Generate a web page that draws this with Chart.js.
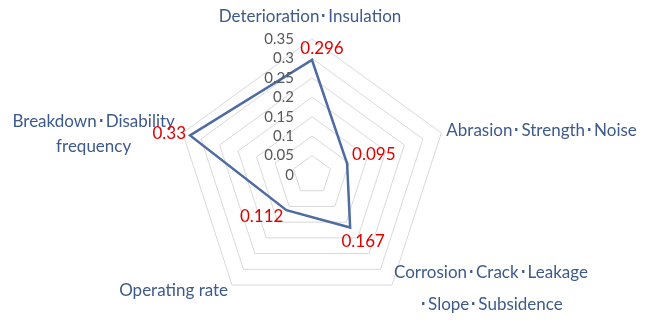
<!DOCTYPE html>
<html>
<head>
<meta charset="utf-8">
<script src="https://cdn.jsdelivr.net/npm/chart.js@4/dist/chart.umd.min.js"></script>
<style>
  html, body { margin: 0; padding: 0; background: #fff; }
  #wrap { width: 647px; height: 322px; position: relative; }
</style>
</head>
<body>
<div id="wrap"><canvas id="c"></canvas></div>
<script>
// axis names (multi-line ones are arrays)
const categories = [
  'Deterioration･Insulation',
  'Abrasion･Strength･Noise',
  ['Corrosion･Crack･Leakage', '･Slope･Subsidence'],
  'Operating rate',
  ['Breakdown･Disability', 'frequency']
];
const values = [0.296, 0.095, 0.167, 0.112, 0.33];
const tickValues = [0, 0.05, 0.1, 0.15, 0.2, 0.25, 0.3, 0.35];

const FONT = 'Lato, "Open Sans", sans-serif';
const LABEL_COLOR = '#3d5a8c';
const LINE_COLOR = '#4e6ba3';
const VALUE_COLOR = '#e00000';

// where each axis name / value label sits relative to its anchor point
const catOffsets = [
  { dx: -2, dy: -22, align: 'center' },
  { dx: 5, dy: -2, align: 'left' },
  { dx: 99, dy: 3, align: 'center' },
  { dx: -4, dy: 5, align: 'right' },
  { dx: -89, dy: 1, align: 'center' }
];
const valOffsets = [
  { dx: 10, dy: -11, align: 'center' },
  { dx: 5, dy: -9, align: 'left' },
  { dx: 13, dy: 14, align: 'center' },
  { dx: -3, dy: 6, align: 'right' },
  { dx: -4, dy: -2, align: 'right' }
];

const labelPlugin = {
  id: 'radarText',
  afterDatasetsDraw(chart) {
    const ctx = chart.ctx;
    const scale = chart.scales.r;
    ctx.save();
    ctx.textBaseline = 'middle';

    // tick labels, right aligned just left of the vertical axis
    ctx.font = '15px ' + FONT;
    ctx.fillStyle = '#595959';
    ctx.textAlign = 'right';
    tickValues.forEach(v => {
      const p = scale.getPointPositionForValue(0, v);
      ctx.fillText(String(v), scale.xCenter - 18, p.y);
    });

    // axis names
    ctx.font = '17px ' + FONT;
    ctx.fillStyle = LABEL_COLOR;
    categories.forEach((lab, i) => {
      const o = catOffsets[i];
      const p = scale.getPointPosition(i, scale.drawingArea);
      const lines = Array.isArray(lab) ? lab : [lab];
      const lh = i === 4 ? 25 : 32;
      ctx.textAlign = o.align;
      lines.forEach((t, k) => {
        const y = p.y + o.dy + (k - (lines.length - 1) / 2) * lh;
        ctx.fillText(t, p.x + o.dx, y);
      });
    });

    // value labels
    ctx.font = '17px ' + FONT;
    ctx.fillStyle = VALUE_COLOR;
    const meta = chart.getDatasetMeta(0);
    meta.data.forEach((pt, i) => {
      const o = valOffsets[i];
      ctx.textAlign = o.align;
      ctx.fillText(String(values[i]), pt.x + o.dx, pt.y + o.dy);
    });
    ctx.restore();
  }
};

new Chart(document.getElementById('c'), {
  type: 'radar',
  data: {
    labels: categories,
    datasets: [{
      data: values,
      borderColor: LINE_COLOR,
      borderWidth: 2.5,
      pointRadius: 0,
      fill: false,
      tension: 0
    }]
  },
  options: {
    responsive: true,
    maintainAspectRatio: false,
    animation: false,
    layout: { padding: { top: 39, bottom: 11, left: 176, right: 199 } },
    plugins: {
      legend: { display: false },
      tooltip: { enabled: false }
    },
    scales: {
      r: {
        min: 0,
        max: 0.35,
        ticks: { stepSize: 0.05, display: false },
        grid: { color: '#d9d9d9', lineWidth: 1 },
        angleLines: { display: false },
        pointLabels: { display: false }
      }
    }
  },
  plugins: [labelPlugin]
});
</script>
</body>
</html>
